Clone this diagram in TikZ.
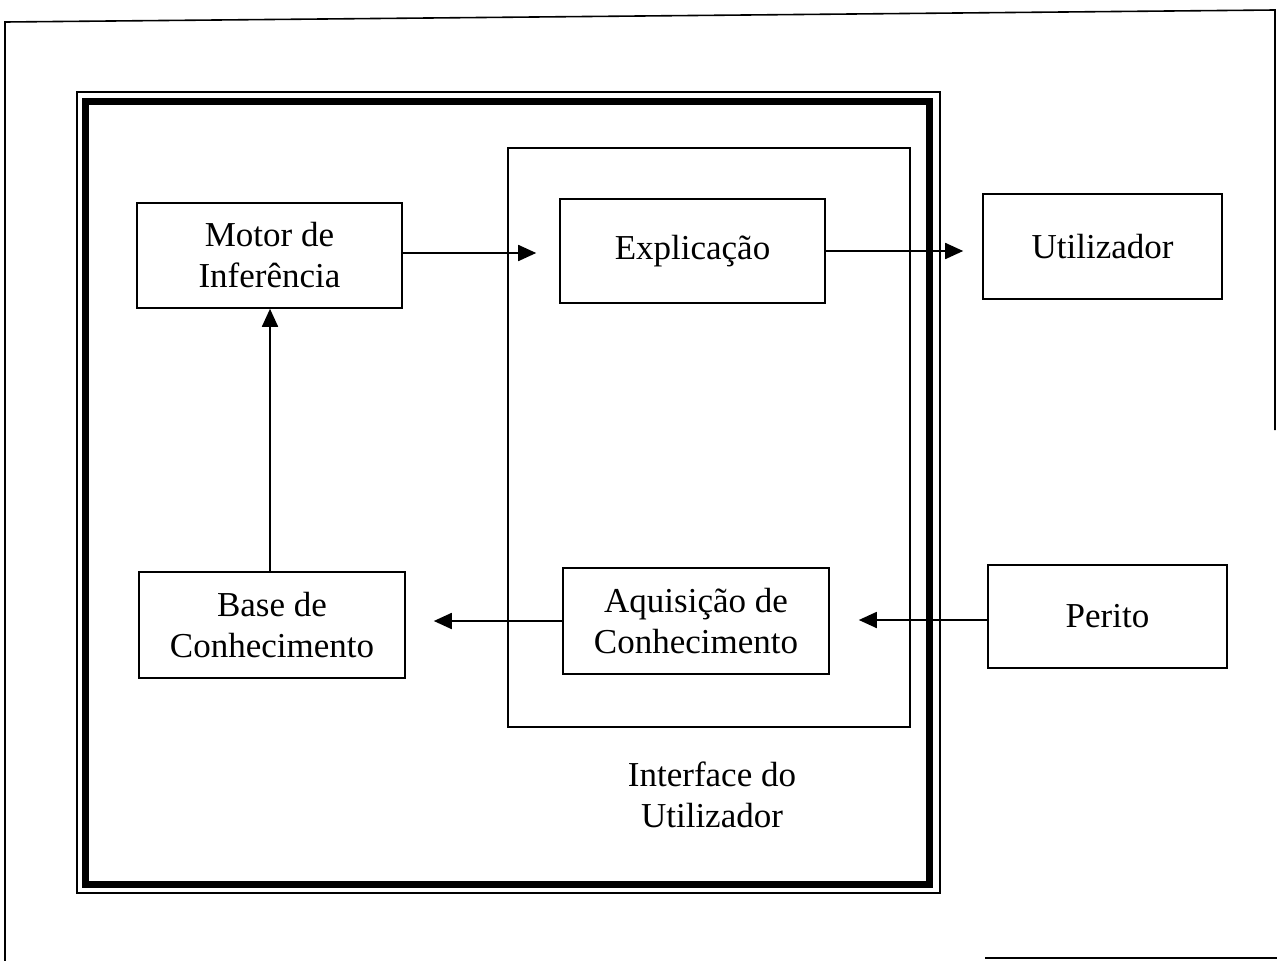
\documentclass[tikz,border=0pt]{standalone}
\usepackage{fontspec}
\setmainfont{Liberation Serif}
\usetikzlibrary{arrows.meta}
\tikzset{
  blk/.style={draw, line width=1.6pt, align=center, inner sep=0pt,
    font=\fontsize{35}{41}\selectfont},
  arr/.style={line width=1.8pt, -{Triangle[length=18pt,width=16pt]}},
  thin/.style={line width=1.6pt},
}
\begin{document}
\begin{tikzpicture}[x=1pt,y=-1pt]
\useasboundingbox (0,0) rectangle (1277,961);
% page frame (partially scanned)
\draw[thin] (5,961) -- (5,22) -- (1275,10) -- (1275,430);
\draw[thin] (985,958) -- (1277,958);
% double frame
\draw[thin] (77,92) rectangle (940,893);
\draw[line width=7pt] (85,101) rectangle (929,884);
% interface region
\node[draw, line width=1.6pt, minimum width=402pt, minimum height=579pt, inner sep=0pt] (iface) at (709,437.5) {};
\node[font=\fontsize{35}{41}\selectfont, align=center] (ilabel) at (712,795) {Interface do\\Utilizador};
% blocks
\node[blk, minimum width=265pt, minimum height=105pt] (motor) at (269.5,255.5) {Motor de\\Inferência};
\node[blk, minimum width=265pt, minimum height=104pt] (expl) at (692.5,251) {Explicação};
\node[blk, minimum width=239pt, minimum height=105pt] (util) at (1102.5,246.5) {Utilizador};
\node[blk, minimum width=266pt, minimum height=106pt] (base) at (272,625) {Base de\\Conhecimento};
\node[blk, minimum width=266pt, minimum height=106pt] (aq) at (696,621) {Aquisição de\\Conhecimento};
\node[blk, minimum width=239pt, minimum height=103pt] (perito) at (1107.5,616.5) {Perito};
% arrows
\draw[arr, shorten >=23pt] ([yshift=2.5pt]motor.east) -- ([yshift=2.5pt]motor.east -| expl.west);
\draw[arr, shorten >=19pt] (expl.east) -- (expl.east -| util.west);
\draw[arr] (base.north -| 270,0) -- (motor.south -| 270,0);
\draw[arr, shorten >=28pt] (aq.west) -- (aq.west -| base.east);
\draw[arr, shorten >=29pt] ([yshift=-3.5pt]perito.west) -- ([yshift=-3.5pt]perito.west -| aq.east);
\end{tikzpicture}
\end{document}
